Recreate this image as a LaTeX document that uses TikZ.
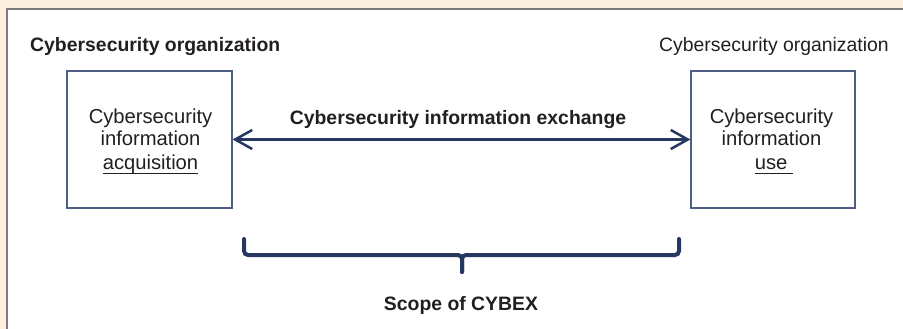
\documentclass[tikz,border=0pt]{standalone}
\usepackage{fontspec}
\setmainfont{Liberation Sans}
\usetikzlibrary{arrows.meta}

\definecolor{peach}{HTML}{FDEEE2}
\definecolor{framegray}{HTML}{7C7C7C}
\definecolor{navy}{HTML}{263762}
\definecolor{boxline}{HTML}{4E5C86}
\definecolor{ink}{HTML}{231F20}

% underline set a little below the baseline
\newcommand\lowline[1]{\setbox0\hbox{#1}\rlap{\rule[-5pt]{\wd0}{1.3pt}}\box0}

\tikzset{
  txt/.style={text=ink, inner sep=0pt, font=\fontsize{19.4}{23}\selectfont},
  boxtxt/.style={txt, font=\fontsize{20.2}{23}\selectfont},
  btxt/.style={txt, font=\fontsize{19.4}{23}\selectfont\bfseries},
  orgbox/.style={draw=boxline, line width=1.3pt, fill=white, inner sep=0pt},
  exchange/.style={draw=navy, line width=2.5pt, line cap=round,
    {Straight Barb[length=17pt,width=19pt]}-{Straight Barb[length=17pt,width=19pt]}},
  bracket/.style={draw=navy, line width=4pt, line cap=round, rounded corners=4pt},
}

\begin{document}
\begin{tikzpicture}[x=1pt,y=-1pt]
  \useasboundingbox (0,0) rectangle (903,329);

  % page background and white panel
  \fill[peach] (0,0) rectangle (903,329);
  \fill[white] (7,9) rectangle (910,340);
  \draw[framegray, line width=1.5pt] (7,340) -- (7,9) -- (910,9);

  % organization headings
  \node[btxt, anchor=base west] (hdrL) at (30,51.5) {Cybersecurity organization};
  \node[txt, anchor=base east] (hdrR) at (889,51.5) {Cybersecurity organization};

  % the two organization boxes
  \node[orgbox, minimum width=165pt, minimum height=137pt] (L) at (149.5,139.5) {};
  \node[orgbox, minimum width=164pt, minimum height=137pt] (R) at (773,139.5) {};

  % box contents
  \node[boxtxt, anchor=base] (L1) at (150.5,123) {Cybersecurity};
  \node[boxtxt, anchor=base] (L2) at (150.5,146) {information};
  \node[boxtxt, anchor=base] (L3) at (150.5,169) {\lowline{acquisition}};

  \node[boxtxt, anchor=base] (R1) at (771.5,123) {Cybersecurity};
  \node[boxtxt, anchor=base] (R2) at (771.5,146) {information};
  \node[boxtxt, anchor=base] (R3) at (774,169) {\lowline{use\ }};

  % exchange arrow
  \draw[exchange] (L.east) -- (R.west);
  \node[btxt, anchor=base] (exch) at (458,124.5) {Cybersecurity information exchange};

  % scope bracket
  \coordinate (bl) at (244,239);
  \coordinate (br) at (679,239);
  \coordinate (bm) at (462,255);
  \coordinate (bt) at (462,272);
  \draw[bracket] (bl) |- (bm) -- (bt);
  \draw[bracket] (br) |- (bm) -- (bt);
  \node[btxt, anchor=base] (scope) at (461,310) {Scope of CYBEX};
\end{tikzpicture}
\end{document}
